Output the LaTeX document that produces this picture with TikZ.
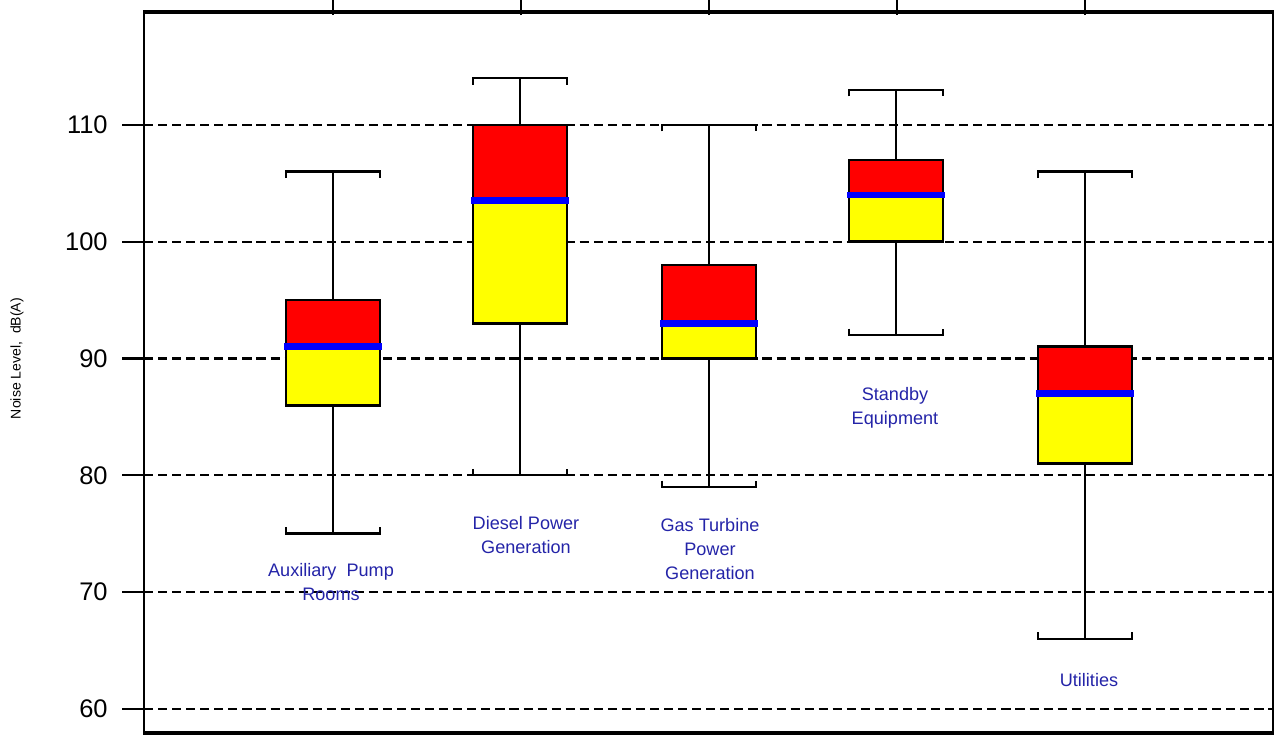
\documentclass[tikz,border=0pt]{standalone}
\usepackage{fontspec}
\setmainfont{Liberation Sans}
\usepackage{tikz}
\definecolor{labelblue}{HTML}{2424A8}
\definecolor{boxred}{HTML}{FF0000}
\definecolor{boxyellow}{HTML}{FFFF00}
\definecolor{medblue}{HTML}{0000FF}
% #1 centre x, #2 low whisker, #3 lower quartile, #4 median, #5 upper quartile, #6 high whisker
\newcommand{\noisebox}[6]{%
  \draw[whisk] (#1,#5) -- (#1,#6);
  \draw[whisk] (#1,#2) -- (#1,#3);
  \draw[whisk] (#1-47,#6-0.55) -- (#1-47,#6) -- (#1+47,#6) -- (#1+47,#6-0.55);
  \draw[whisk] (#1-47,#2+0.55) -- (#1-47,#2) -- (#1+47,#2) -- (#1+47,#2+0.55);
  \fill[boxyellow] (#1-47,#3) rectangle (#1+47,#4);
  \fill[boxred] (#1-47,#4) rectangle (#1+47,#5);
  \draw[boxline] (#1-47,#3) rectangle (#1+47,#5);
  \draw[median] (#1-49,#4) -- (#1+49,#4);
}

\begin{document}
\begin{tikzpicture}[x=0.02cm,y=0.2336cm,
  grid/.style={dash pattern=on 5.2pt off 2.8pt,line width=1.3pt},
  whisk/.style={line width=1.4pt,line cap=butt},
  boxline/.style={line width=1.5pt},
  median/.style={line width=3.8pt,medblue},
  ticklbl/.style={anchor=east,inner sep=0pt,font=\fontsize{14.5}{16}\selectfont},
  catlbl/.style={align=center,inner sep=0pt,text=labelblue,
    font=\fontsize{10.3}{13.7}\selectfont}]

\useasboundingbox (0,57.774) rectangle (1276,120.70);

% grid and left ticks
\draw[grid] (144,60) -- (1273,60);
\draw[grid] (144,70) -- (1273,70);
\draw[grid] (144,80) -- (1273,80);
\draw[grid] (144,90) -- (1273,90);
\draw[grid] (144,100) -- (1273,100);
\draw[grid] (144,110) -- (1273,110);
\draw[line width=1.3pt] (122,60) -- (144,60) (122,70) -- (144,70) (122,80) -- (144,80)
  (122,90) -- (144,90) (122,100) -- (144,100) (122,110) -- (144,110);

\node[ticklbl] (t60) at (108,60) {60};
\node[ticklbl] (t70) at (108,70) {70};
\node[ticklbl] (t80) at (108,80) {80};
\node[ticklbl] (t90) at (108,90) {90};
\node[ticklbl] (t100) at (108,100) {100};
\node[ticklbl] (t110) at (108,110) {110};

\node[rotate=90,inner sep=0pt,font=\fontsize{8}{9}\selectfont] (ylbl) at (17,90)
  {Noise Level,\ \ dB(A)};

% boxes
\noisebox{333}{75}{86}{91}{95}{106}
\noisebox{520}{80}{93}{103.5}{110}{114}
\noisebox{709}{79}{90}{93}{98}{110}
\noisebox{896}{92}{100}{104}{107}{113}
\noisebox{1085}{66}{81}{87}{91}{106}

% frame
\draw[line width=1.4pt] (144,57.95) -- (144,119.67);
\draw[line width=1.4pt] (1273,57.95) -- (1273,119.67);
\draw[line width=2.1pt] (143,119.67) -- (1274,119.67);
\draw[line width=2.1pt] (143,57.95) -- (1274,57.95);
\draw[line width=1.3pt] (333,119.4) -- (333,120.7) (521,119.4) -- (521,120.7)
  (709,119.4) -- (709,120.7) (897,119.4) -- (897,120.7) (1085,119.4) -- (1085,120.7);

% category labels
\node[catlbl] (aux) at (331,70.87) {Auxiliary\ \ Pump\\Rooms};
\node[catlbl] (diesel) at (526,74.90) {Diesel Power\\Generation};
\node[catlbl] (gasturb) at (710,73.70) {Gas Turbine\\Power\\Generation};
\node[catlbl] (standby) at (895,85.81) {Standby\\Equipment};
\node[catlbl] (util) at (1089,62.48) {Utilities};
\end{tikzpicture}
\end{document}
